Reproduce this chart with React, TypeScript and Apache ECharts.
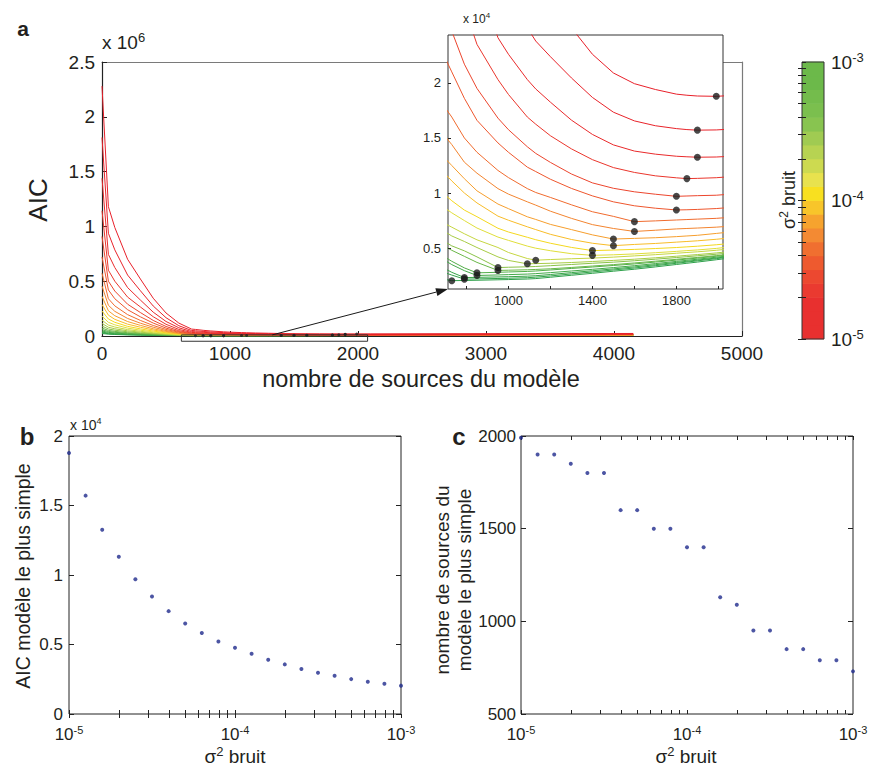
import React, { useEffect, useRef } from "react";
import * as echarts from "echarts";

// noise levels (sigma^2), one per curve / point
const sigma2 = [1e-5, 1.259e-5, 1.585e-5, 1.995e-5, 2.512e-5, 3.162e-5, 3.981e-5, 5.012e-5, 6.31e-5, 7.943e-5, 1e-4,
  1.259e-4, 1.585e-4, 1.995e-4, 2.512e-4, 3.162e-4, 3.981e-4, 5.012e-4, 6.31e-4, 7.943e-4, 1e-3];

// number of sources at which every AIC curve is sampled
const kGrid = [0, 50, 100, 200, 300, 400, 500, 600, 700, 730, 790, 850, 950, 1000, 1090, 1130, 1200, 1300, 1400, 1500, 1600, 1700, 1800, 1850, 1900, 1990, 2100, 4150];

const curve01 = [2280000, 1180000, 990000, 700000, 520000, 345000, 210000, 118000, 63000, 60000, 52000, 46000, 38000, 35000, 31000, 29600, 27500, 25000, 22600, 20900, 19930, 19400, 18980, 18880, 18810, 18780, 18900, 23100];
const curve02 = [1811000, 937000, 786000, 556000, 413000, 274000, 167000, 94000, 50300, 48000, 41600, 36900, 30600, 28200, 25000, 23800, 22380, 20450, 18680, 17340, 16550, 16110, 15850, 15760, 15710, 15730, 15850, 19900];
const curve03 = [1438600, 744500, 624600, 441700, 328100, 217700, 132500, 75000, 40300, 38400, 33400, 29600, 24100, 22600, 20300, 19450, 18250, 16620, 15320, 14370, 13810, 13530, 13340, 13290, 13250, 13270, 13380, 17500];
const curve04 = [1142700, 600000, 500000, 355000, 265000, 176000, 107000, 60000, 32300, 30800, 26900, 23500, 20300, 18950, 16900, 16250, 15200, 14010, 13030, 12310, 11870, 11560, 11380, 11310, 11330, 11390, 11550, 15700];
const curve05 = [907700, 500000, 410000, 290000, 214000, 142000, 87000, 48500, 26000, 24700, 21700, 19500, 16800, 15750, 14200, 13600, 12780, 11730, 10920, 10430, 10110, 9890, 9700, 9730, 9760, 9800, 9960, 14100];
const curve06 = [721000, 420000, 340000, 240000, 175000, 118000, 72000, 40000, 22200, 21000, 18600, 16600, 14550, 13700, 12350, 11950, 11250, 10420, 9740, 9200, 8840, 8620, 8460, 8480, 8510, 8590, 8750, 12800];
const curve07 = [572700, 340000, 275000, 195000, 142000, 96000, 60000, 34000, 17700, 16900, 15000, 13700, 12050, 11400, 10400, 10050, 9600, 8930, 8300, 7880, 7400, 7470, 7550, 7590, 7630, 7700, 7850, 11900];
const curve08 = [454900, 280000, 225000, 160000, 117000, 80000, 50000, 28000, 15100, 14400, 12800, 11800, 10400, 9900, 9200, 8900, 8350, 7700, 7130, 6780, 6510, 6620, 6740, 6780, 6820, 6900, 7050, 11000];
const curve09 = [361400, 230000, 185000, 132000, 97000, 66000, 42000, 24000, 13100, 12500, 11300, 10200, 9000, 8580, 7840, 7600, 7150, 6680, 6200, 5820, 5880, 5940, 6040, 6100, 6160, 6330, 6550, 10600];
const curve10 = [287000, 190000, 152000, 108000, 80000, 55000, 35000, 20000, 11700, 11100, 10000, 9100, 7900, 7530, 6930, 6680, 6250, 5780, 5440, 5220, 5330, 5420, 5540, 5600, 5660, 5800, 6000, 10200];
const curve11 = [228000, 155000, 125000, 88000, 65000, 45000, 29000, 17000, 9800, 9300, 8450, 7850, 6800, 6460, 5980, 5760, 5440, 5060, 4770, 4820, 4880, 4960, 5050, 5110, 5170, 5300, 5500, 9700];
const curve12 = [181100, 125000, 102000, 72000, 53000, 37000, 24000, 14000, 8600, 8200, 7500, 6820, 6000, 5700, 5180, 4990, 4760, 4490, 4340, 4390, 4470, 4580, 4700, 4770, 4830, 4970, 5200, 9300];
const curve13 = [143900, 100000, 82000, 58000, 43000, 30000, 19500, 11500, 7200, 6900, 6300, 5750, 5050, 4600, 4050, 3900, 3960, 4030, 4090, 4180, 4290, 4400, 4530, 4600, 4660, 4800, 5000, 9100];
const curve14 = [114300, 80000, 66000, 47000, 35000, 24500, 16000, 9500, 6450, 6100, 5600, 5050, 4200, 3880, 3570, 3590, 3620, 3690, 3780, 3880, 3990, 4120, 4260, 4340, 4410, 4560, 4780, 8900];
const curve15 = [90800, 64000, 53000, 38000, 28000, 20000, 13000, 8000, 5550, 5200, 4750, 4200, 3230, 3260, 3300, 3330, 3400, 3510, 3620, 3720, 3850, 3990, 4140, 4220, 4300, 4440, 4650, 8800];
const curve16 = [72100, 51000, 42000, 30000, 22500, 16000, 10500, 7000, 5100, 4800, 4250, 3700, 2970, 2990, 3030, 3060, 3120, 3240, 3370, 3500, 3650, 3810, 3980, 4070, 4150, 4310, 4540, 8700];
const curve17 = [57300, 41000, 34000, 24500, 18000, 13000, 8800, 6000, 4150, 3800, 3200, 2750, 2800, 2830, 2880, 2920, 3010, 3150, 3280, 3420, 3560, 3730, 3910, 4000, 4090, 4260, 4490, 8600];
const curve18 = [45500, 33000, 27000, 19500, 14500, 10500, 7200, 5200, 3850, 3500, 2950, 2510, 2560, 2590, 2640, 2680, 2770, 2920, 3070, 3230, 3400, 3590, 3790, 3890, 3990, 4170, 4410, 8500];
const curve19 = [36100, 26000, 21500, 15500, 11500, 8500, 5900, 4200, 3100, 2800, 2320, 2340, 2380, 2400, 2450, 2490, 2600, 2770, 2940, 3110, 3290, 3490, 3700, 3800, 3910, 4100, 4340, 8400];
const curve20 = [28700, 21000, 17200, 12400, 9300, 6900, 4900, 3600, 2750, 2550, 2180, 2200, 2240, 2260, 2310, 2360, 2470, 2650, 2830, 3010, 3190, 3400, 3620, 3730, 3840, 4040, 4290, 8350];
const curve21 = [22800, 16500, 13700, 9900, 7400, 5500, 3900, 2900, 2150, 2040, 2060, 2080, 2120, 2140, 2190, 2230, 2350, 2530, 2710, 2900, 3080, 3290, 3510, 3620, 3730, 3940, 4200, 8300];

const curves = [curve01, curve02, curve03, curve04, curve05, curve06, curve07, curve08, curve09, curve10, curve11,
  curve12, curve13, curve14, curve15, curve16, curve17, curve18, curve19, curve20, curve21];

const curveColors = ["#E8202A", "#E8232A", "#E92A2B", "#EA362C", "#EC452D", "#EE562D", "#F06B2E", "#F3842F", "#F69E2D",
  "#F8BC28", "#F4D81E", "#E0DE3A", "#C6D641", "#A8CC45", "#8AC248", "#6AB748", "#52AE48", "#43A948", "#39A549", "#33A24A", "#2EA04A"];

// simplest model: number of sources and its AIC, per noise level
const minSources = [1990, 1900, 1900, 1850, 1800, 1800, 1600, 1600, 1500, 1500, 1400, 1400, 1130, 1090, 950, 950, 850, 850, 790, 790, 730];
const minAIC = [18780, 15710, 13250, 11310, 9700, 8460, 7400, 6510, 5820, 5220, 4770, 4340, 3900, 3570, 3230, 2970, 2750, 2510, 2320, 2180, 2040];

// colour bar bands from 1e-5 (bottom) to 1e-3 (top)
const colorbarColors = ["#E8302F", "#E8302F", "#E8302F", "#EA3A30", "#EC4830", "#EE5A2F", "#F06F30", "#F38A33", "#F6A32E", "#F8C52A",
  "#F8E020", "#E8E24E", "#CDDA50", "#B7D352", "#A0CB52", "#88C450", "#7BBF4E", "#74BC4C", "#6CB94A", "#6CB94A"];

const logTicks = [1e-5, 2e-5, 3e-5, 4e-5, 5e-5, 6e-5, 7e-5, 8e-5, 9e-5, 1e-4, 2e-4, 3e-4, 4e-4, 5e-4, 6e-4, 7e-4, 8e-4, 9e-4, 1e-3];
const insetXTicks = [800, 1000, 1200, 1400, 1600, 1800, 2000];
const insetXLabels = [1000, 1400, 1800];
const insetYTicks = [5000, 10000, 15000, 20000];
const zoomRect = [[620, 10000], [2075, 10000], [2075, -48000], [620, -48000], [620, 10000]];

const FONT = "'Liberation Sans', Arial, Helvetica, sans-serif";
const TXT = "#231f20";

const plain = (v: number) => String(v);
const expLabel = (v: number) => `{b|10}{s|${Math.round(Math.log10(v))}}`;
const expRich = (size: number) => ({
  b: { fontSize: size, fontFamily: FONT, color: TXT },
  s: { fontSize: Math.round(size * 0.66), fontFamily: FONT, color: TXT, padding: [0, 0, Math.round(size * 0.55), 0] },
});

const tickIn = (extra: any = {}) => ({ show: true, inside: true, length: 5, lineStyle: { color: "#222", width: 1 }, ...extra });
const noSplit = { show: false };

function buildOption() {
  const series: any[] = [];
  for (let i = curves.length - 1; i >= 0; i--) {
    const data = kGrid.map((k, j) => [k, curves[i][j]]);
    series.push({
      type: "line", xAxisIndex: 0, yAxisIndex: 0, data, symbol: "none", silent: true, z: 2,
      lineStyle: { width: 1, color: curveColors[i] }, itemStyle: { color: curveColors[i] },
    });
    series.push({
      type: "line", xAxisIndex: 2, yAxisIndex: 2, data, symbol: "none", silent: true, z: 4,
      lineStyle: { width: 1, color: curveColors[i] }, itemStyle: { color: curveColors[i] },
    });
  }
  const minPts = minSources.map((k, i) => [k, minAIC[i]]);
  series.push({ type: "scatter", xAxisIndex: 0, yAxisIndex: 0, data: minPts, symbolSize: 3, itemStyle: { color: "#222" }, z: 3, silent: true });
  series.push({
    type: "line", xAxisIndex: 0, yAxisIndex: 0, data: zoomRect, symbol: "none", clip: false, silent: true, z: 3,
    lineStyle: { width: 1, color: "#333" },
  });
  series.push({ type: "scatter", xAxisIndex: 2, yAxisIndex: 2, data: minPts, symbolSize: 7, itemStyle: { color: "#1c1c1c" }, z: 5, silent: true });
  series.push({
    type: "custom", xAxisIndex: 3, yAxisIndex: 3, silent: true, z: 2,
    data: colorbarColors.map((c, j) => [0.5, sigma2[j], sigma2[j + 1]]),
    encode: { x: 0, y: [1, 2] },
    renderItem: (params: any, api: any) => {
      const lo = api.coord([0, api.value(1)]);
      const hi = api.coord([1, api.value(2)]);
      return {
        type: "rect",
        shape: { x: lo[0], y: hi[1] - 0.3, width: hi[0] - lo[0], height: lo[1] - hi[1] + 0.6 },
        style: { fill: colorbarColors[params.dataIndex] },
      };
    },
  });
  series.push({
    type: "scatter", xAxisIndex: 4, yAxisIndex: 5, data: sigma2.map((s, i) => [s, minAIC[i]]),
    symbolSize: 4, itemStyle: { color: "#1f2b8c" }, clip: false, silent: true,
  });
  series.push({
    type: "scatter", xAxisIndex: 6, yAxisIndex: 7, data: sigma2.map((s, i) => [s, minSources[i]]),
    symbolSize: 4, itemStyle: { color: "#1f2b8c" }, clip: false, silent: true,
  });

  const logX = (grid: number, top: boolean) => ({
    gridIndex: grid, type: "log", logBase: 10, min: 1e-5, max: 1e-3, position: top ? "top" : "bottom",
    axisLine: { show: false }, splitLine: noSplit,
    axisTick: tickIn({ customValues: logTicks, length: 4 }),
    axisLabel: top ? { show: false } : { formatter: expLabel, rich: expRich(17), margin: 10 },
  });
  const sideY = (grid: number, min: number, max: number, interval: number) => ({
    gridIndex: grid, type: "value", min, max, interval, position: "right",
    axisLine: { show: false }, splitLine: noSplit, axisTick: tickIn(), axisLabel: { show: false },
  });

  return {
    animation: false,
    backgroundColor: "#fff",
    textStyle: { fontFamily: FONT, color: TXT },
    grid: [
      { left: 102, top: 62, width: 640, height: 274, show: false, outerBoundsMode: "none" },
      { left: 448, top: 35, width: 275, height: 254, show: true, backgroundColor: "#fff", borderColor: "#333", borderWidth: 1, z: 3, outerBoundsMode: "none" },
      { left: 802, top: 62, width: 22, height: 277, show: true, borderColor: "#333", borderWidth: 1, z: 3, outerBoundsMode: "none" },
      { left: 69, top: 436, width: 332, height: 278, show: true, borderColor: "#222", borderWidth: 1, outerBoundsMode: "none" },
      { left: 521, top: 436, width: 332, height: 278, show: true, borderColor: "#222", borderWidth: 1, outerBoundsMode: "none" },
    ],
    xAxis: [
      {
        gridIndex: 0, type: "value", min: 0, max: 5000, interval: 1000, position: "bottom",
        axisLine: { show: true, onZero: false, lineStyle: { color: "#222", width: 1.2 } }, splitLine: noSplit,
        axisTick: tickIn(), axisLabel: { fontSize: 19, color: TXT, fontFamily: FONT, margin: 8, formatter: plain },
      },
      {
        gridIndex: 0, type: "value", min: 0, max: 5000, position: "top",
        axisLine: { show: true, onZero: false, lineStyle: { color: "#7a7a7a", width: 1.2 } }, splitLine: noSplit,
        axisTick: { show: false }, axisLabel: { show: false },
      },
      {
        gridIndex: 1, type: "value", min: 712, max: 2022, z: 5,
        axisLine: { show: false }, splitLine: noSplit,
        axisTick: tickIn({ customValues: insetXTicks, length: 3 }),
        axisLabel: { customValues: insetXLabels, fontSize: 13, color: TXT, fontFamily: FONT, margin: 5, formatter: plain },
      },
      { gridIndex: 2, type: "value", min: 0, max: 1, show: false },
      logX(3, false),
      logX(3, true),
      logX(4, false),
      logX(4, true),
    ],
    yAxis: [
      {
        gridIndex: 0, type: "value", min: 0, max: 2500000, interval: 500000,
        axisLine: { show: true, onZero: false, lineStyle: { color: "#222", width: 1.2 } }, splitLine: noSplit,
        axisTick: tickIn(), axisLabel: { fontSize: 19, color: TXT, fontFamily: FONT, margin: 7, formatter: (v: number) => String(v / 1e6) },
      },
      {
        gridIndex: 0, type: "value", min: 0, max: 2500000, position: "right",
        axisLine: { show: true, onZero: false, lineStyle: { color: "#7a7a7a", width: 1.2 } }, splitLine: noSplit,
        axisTick: { show: false }, axisLabel: { show: false },
      },
      {
        gridIndex: 1, type: "value", min: 1284, max: 24350, z: 5,
        axisLine: { show: false }, splitLine: noSplit,
        axisTick: tickIn({ customValues: insetYTicks, length: 3 }),
        axisLabel: { customValues: insetYTicks, fontSize: 13, color: TXT, fontFamily: FONT, margin: 7, formatter: (v: number) => String(v / 1e4) },
      },
      {
        gridIndex: 2, type: "log", logBase: 10, min: 1e-5, max: 1e-3, position: "right", z: 4,
        axisLine: { show: false }, splitLine: noSplit,
        axisTick: tickIn({ customValues: logTicks, length: 4 }),
        axisLabel: { formatter: expLabel, rich: expRich(19), margin: 7 },
      },
      {
        gridIndex: 2, type: "log", logBase: 10, min: 1e-5, max: 1e-3, position: "left", z: 4,
        axisLine: { show: false }, splitLine: noSplit,
        axisTick: tickIn({ customValues: logTicks, length: 4 }), axisLabel: { show: false },
      },
      {
        gridIndex: 3, type: "value", min: 0, max: 20000, interval: 5000,
        axisLine: { show: false }, splitLine: noSplit, axisTick: tickIn(),
        axisLabel: { fontSize: 17, color: TXT, fontFamily: FONT, margin: 6, formatter: (v: number) => String(v / 1e4) },
      },
      sideY(3, 0, 20000, 5000),
      {
        gridIndex: 4, type: "value", min: 500, max: 2000, interval: 500,
        axisLine: { show: false }, splitLine: noSplit, axisTick: tickIn(),
        axisLabel: { fontSize: 17, color: TXT, fontFamily: FONT, margin: 5, formatter: plain },
      },
      sideY(4, 500, 2000, 500),
    ],
    series,
  };
}

function textEl(text: string, x: number, y: number, size: number, opts: any = {}) {
  const { rotate, bold, rich, align, lineHeight } = opts;
  return {
    type: "text", x, y, rotation: rotate ? Math.PI / 2 : 0, z: 10, silent: true,
    style: {
      text, fill: TXT, font: `${bold ? "bold " : ""}${size}px ${FONT}`,
      align: align || "center", verticalAlign: "middle", rich, lineHeight,
    },
  };
}

const supRich = (size: number) => ({
  s: { fontSize: Math.round(size * 0.66), fontFamily: FONT, fill: TXT, padding: [0, 0, Math.round(size * 0.55), 0] },
});

export default function App() {
  const ref = useRef<HTMLDivElement>(null);
  useEffect(() => {
    if (!ref.current) return;
    const chart = echarts.init(ref.current, null, { renderer: "svg" });
    chart.setOption(buildOption() as any);

    const p1 = chart.convertToPixel({ xAxisIndex: 0, yAxisIndex: 0 } as any, [1330, 10000]) as number[];
    const p2 = chart.convertToPixel({ xAxisIndex: 2, yAxisIndex: 2 } as any, [712, 1284]) as number[];
    const dx = p2[0] - p1[0], dy = p2[1] - p1[1];
    const len = Math.sqrt(dx * dx + dy * dy) || 1;
    const ux = dx / len, uy = dy / len;
    const hl = 12, hw = 4;
    const bx = p2[0] - ux * hl, by = p2[1] - uy * hl;

    const graphic: any[] = [
      textEl("a", 23, 28, 21, { bold: true }),
      textEl("x 10{s|6}", 102, 42, 19, { rich: supRich(19), align: "left" }),
      textEl("AIC", 38, 200, 26, { rotate: true }),
      textEl("nombre de sources du modèle", 421, 379, 23.5),
      textEl("x 10{s|4}", 463, 19, 12, { rich: supRich(12), align: "left" }),
      textEl("σ{s|2} bruit", 789, 200, 18, { rotate: true, rich: supRich(18) }),
      textEl("b", 27, 436, 24, { bold: true }),
      textEl("x 10{s|4}", 70, 425, 14, { rich: supRich(14), align: "left" }),
      textEl("AIC modèle le plus simple", 23, 576, 19.5, { rotate: true }),
      textEl("σ{s|2} bruit", 235, 756, 19, { rich: supRich(19) }),
      textEl("c", 459, 436, 24, { bold: true }),
      textEl("nombre de sources du\nmodèle le plus simple", 453, 580, 19, { rotate: true, lineHeight: 22 }),
      textEl("σ{s|2} bruit", 686, 756, 19, { rich: supRich(19) }),
      {
        type: "line", z: 10, silent: true,
        shape: { x1: p1[0], y1: p1[1], x2: bx, y2: by },
        style: { stroke: "#1a1a1a", lineWidth: 1 },
      },
      {
        type: "polygon", z: 10, silent: true,
        shape: { points: [[p2[0], p2[1]], [bx - uy * hw, by + ux * hw], [bx + uy * hw, by - ux * hw]] },
        style: { fill: "#1a1a1a" },
      },
    ];
    chart.setOption({ graphic } as any);
    return () => chart.dispose();
  }, []);
  return (
    <div
      ref={ref}
      style={{ position: "fixed", left: 0, top: 0, width: 870, height: 769, background: "#fff" }}
    />
  );
}
